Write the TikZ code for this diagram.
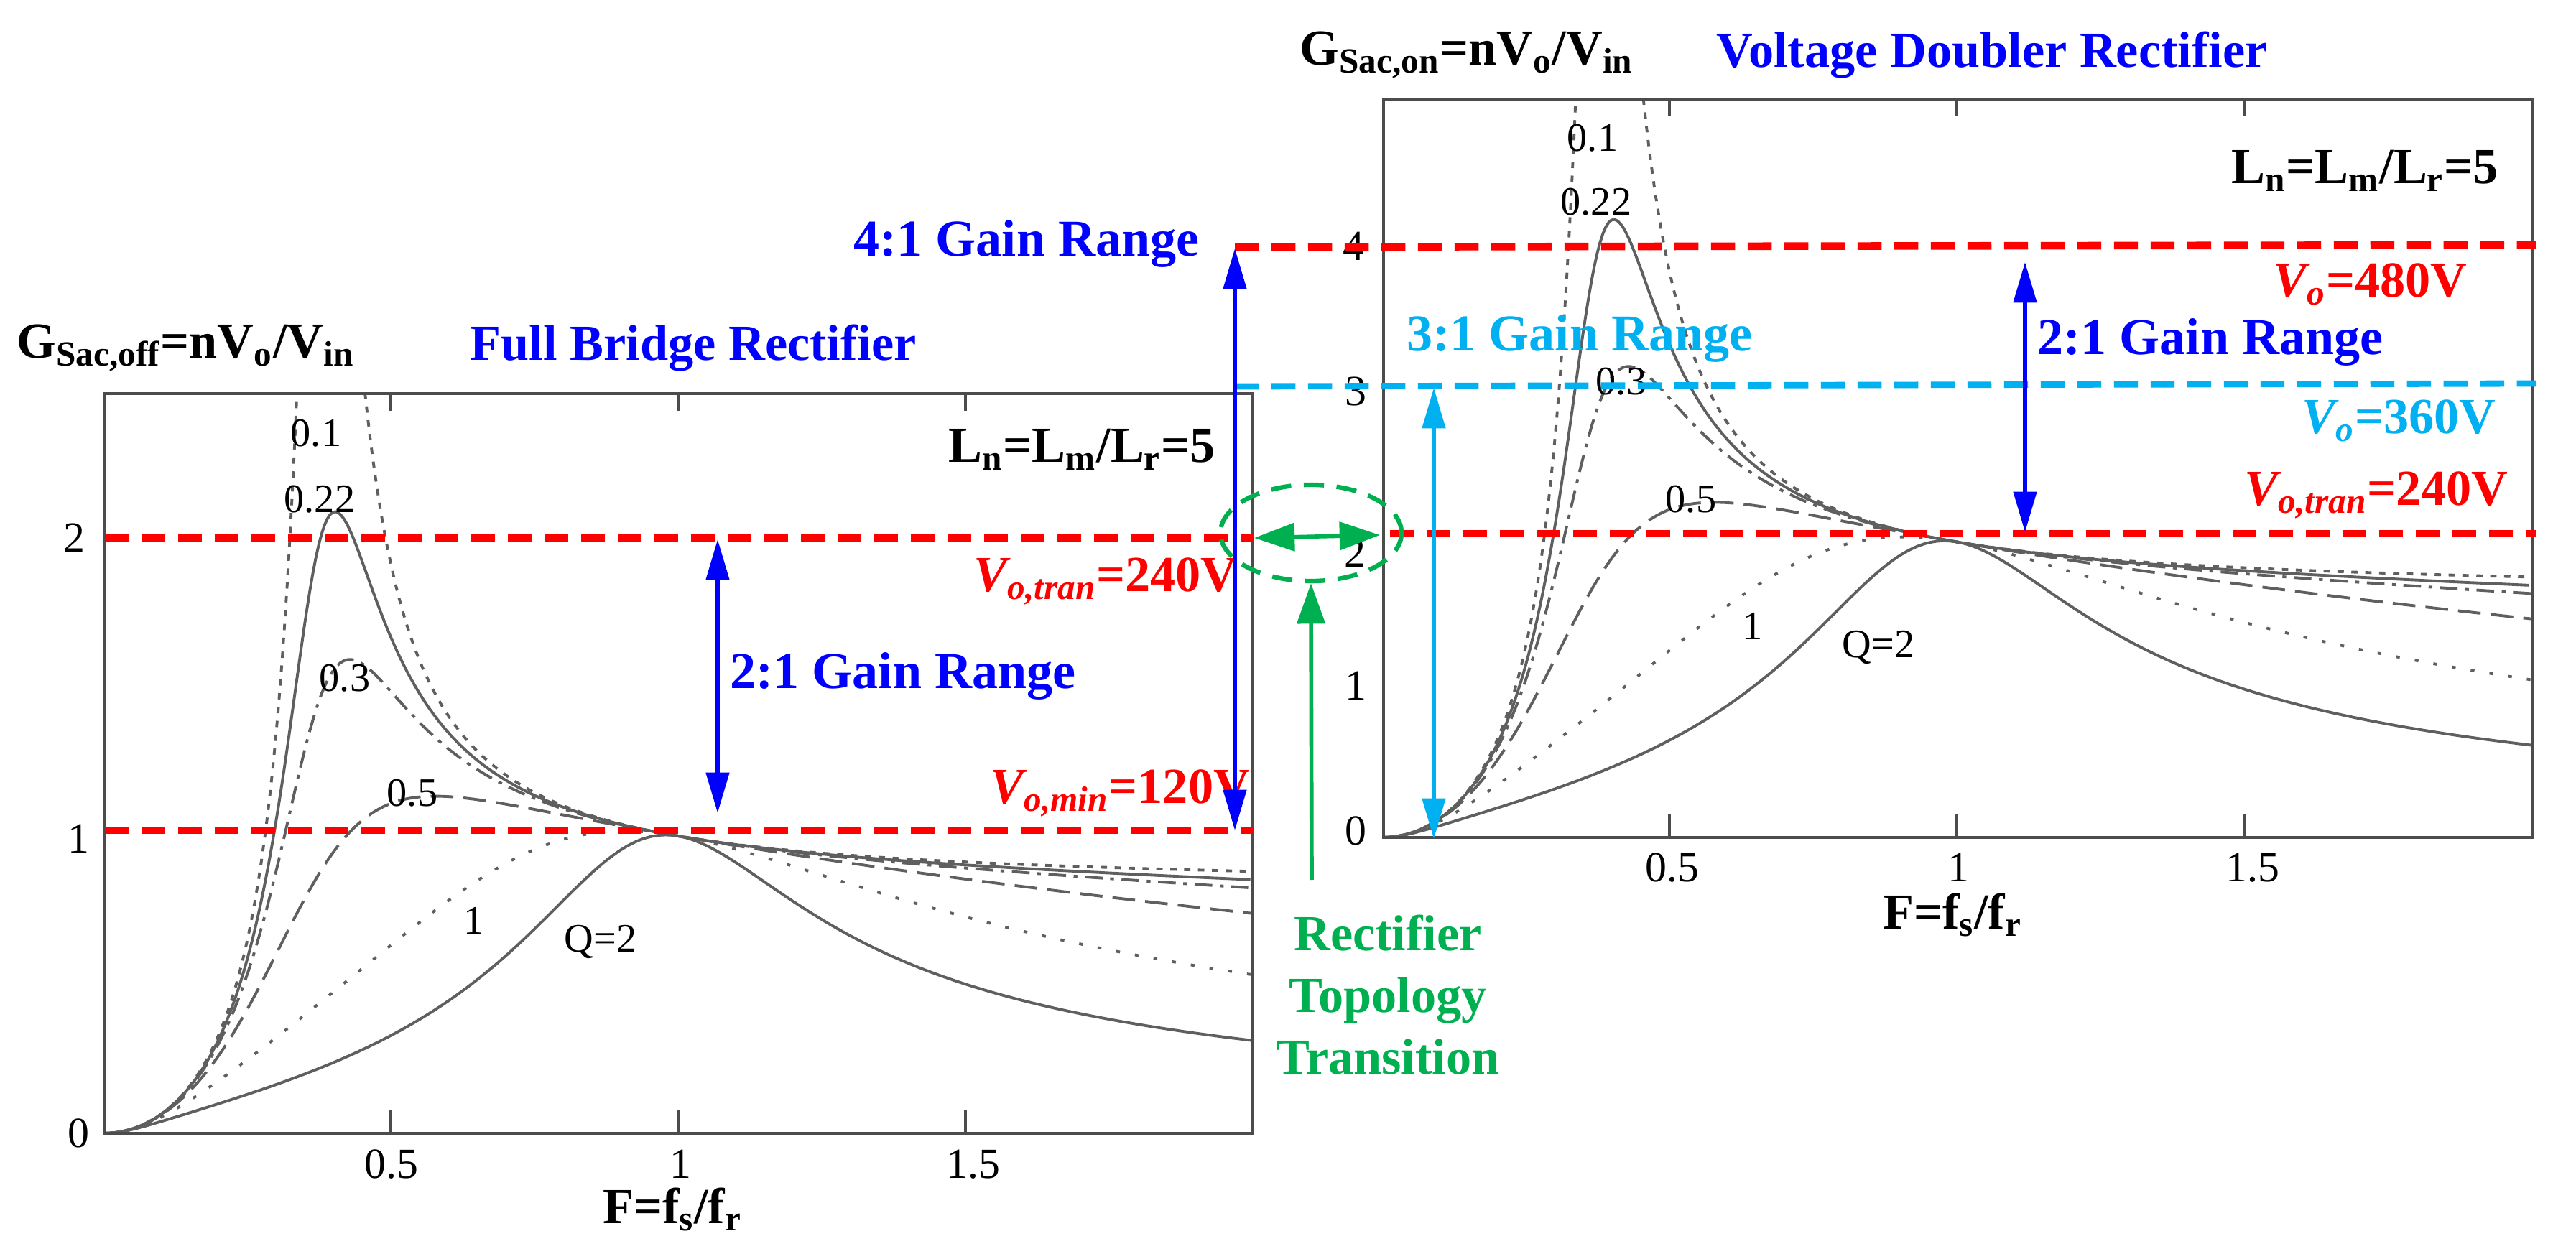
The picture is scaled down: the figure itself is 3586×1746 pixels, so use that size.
\documentclass[tikz,border=0pt]{standalone}
\usepackage{fontspec}
\setmainfont{Liberation Serif}
\usetikzlibrary{arrows.meta,shapes.geometric}
\definecolor{myred}{RGB}{255,0,0}
\definecolor{myblue}{RGB}{0,0,255}
\definecolor{mycyan}{RGB}{0,176,240}
\definecolor{mygreen}{RGB}{0,176,80}
\definecolor{curve}{RGB}{95,95,95}
\begin{document}
\begin{tikzpicture}[x=0.01cm,y=-0.01cm,
  declare function={gm(\f,\q)=6*\f*\f/sqrt((7*\f*\f-1)*(7*\f*\f-1)+(\f*\f-1)*(\f*\f-1)*\f*\f*36*\q*\q);},
  frame/.style={draw=black!70,line width=1.3pt},
  crv/.style={curve,line width=1.1pt},
  q01/.style={crv,dash pattern=on 2.5pt off 3pt},
  q03/.style={crv,dash pattern=on 7pt off 3pt on 1.5pt off 3pt},
  q05/.style={crv,dash pattern=on 9pt off 4pt},
  q1/.style={crv,dash pattern=on 1.5pt off 6pt},
  rdash/.style={myred,line width=3pt,dash pattern=on 9.5pt off 5pt},
  cdash/.style={mycyan,line width=2.5pt,dash pattern=on 9.5pt off 5pt},
  tick/.style={font=\fontsize{17}{20}\selectfont},
  ql/.style={font=\fontsize{16}{19}\selectfont},
  ttl/.style={font=\bfseries\fontsize{20}{24}\selectfont},
  grt/.style={font=\bfseries\fontsize{20.5}{24}\selectfont},
  vl/.style={font=\bfseries\fontsize{20}{24}\selectfont,text=myred},
  barr/.style={myblue,line width=1.6pt,{Triangle[length=16pt,width=9pt]}-{Triangle[length=16pt,width=9pt]}},
  carr/.style={mycyan,line width=1.6pt,{Triangle[length=16pt,width=9pt]}-{Triangle[length=16pt,width=9pt]}},
  garr/.style={mygreen,line width=1.6pt},
]
\useasboundingbox (0,0) rectangle (3586,1746);
% ---------- left plot ----------
\begin{scope}
\clip (145,548) rectangle (1744,1578);
\draw[q01] plot[domain=0.005:2,samples=400] ({144+800*\x},{1578-414*gm(\x,0.1)});
\draw[crv] plot[domain=0.005:2,samples=400] ({144+800*\x},{1578-414*gm(\x,0.22)});
\draw[q03] plot[domain=0.005:2,samples=300] ({144+800*\x},{1578-414*gm(\x,0.3)});
\draw[q05] plot[domain=0.005:2,samples=300] ({144+800*\x},{1578-414*gm(\x,0.5)});
\draw[q1] plot[domain=0.005:2,samples=300] ({144+800*\x},{1578-414*gm(\x,1)});
\draw[crv] plot[domain=0.005:2,samples=300] ({144+800*\x},{1578-414*gm(\x,2)});
\end{scope}
\draw[frame] (145,548) rectangle (1744,1578);
\foreach \t in {0.5,1,1.5} {
  \draw[frame,line width=1pt] ({144+800*\t},1578) -- ({144+800*\t},1546);
  \draw[frame,line width=1pt] ({144+800*\t},548) -- ({144+800*\t},572);}
\node[tick] (l0) at (109,1578) {0};
\node[tick] (l1) at (109,1168) {1};
\node[tick] (l2) at (103,749) {2};
\node[tick] (lx1) at (545,1621) {0.5};
\node[tick] (lx2) at (947,1621) {1};
\node[tick] (lx3) at (1355,1621) {1.5};
\node[ttl] (lxl) at (936,1684) {F=f\textsubscript{s}/f\textsubscript{r}};
\node[ttl,anchor=west,inner sep=0pt] (ltitle) at (23,485) {G\textsubscript{Sac,off}=nV\textsubscript{o}/V\textsubscript{in}};
\node[ttl,anchor=west,inner sep=0pt,text=myblue] (lsub) at (654,485) {Full Bridge Rectifier};
\node[ttl,anchor=west,inner sep=0pt] (lln) at (1320,626) {L\textsubscript{n}=L\textsubscript{m}/L\textsubscript{r}=5};
\node[ql] (lq1) at (440,603) {0.1};
\node[ql] (lq2) at (445,695) {0.22};
\node[ql] (lq3) at (480,944) {0.3};
\node[ql] (lq4) at (574,1104) {0.5};
\node[ql] (lq5) at (660,1282) {1};
\node[ql] (lq6) at (836,1311) {Q=2};
\coordinate (lr2a) at (146,749); \coordinate (lr2b) at (1745,749);
\coordinate (lr1a) at (146,1156); \coordinate (lr1b) at (1745,1156);
\draw[rdash] (lr2a) -- (lr2b);
\draw[rdash] (lr1a) -- (lr1b);
\node[vl,anchor=west,inner sep=0pt] (vtranl) at (1355,809) {\textit{V\textsubscript{o,tran}}=240V};
\node[vl,anchor=west,inner sep=0pt] (vmin) at (1378,1104) {\textit{V\textsubscript{o,min}}=120V};
\coordinate (a21t) at (999,751); \coordinate (a21b) at (999,1132);
\draw[barr] (a21t) -- (a21b);
\node[grt,anchor=west,inner sep=0pt,text=myblue] (g21l) at (1016,941) {2:1 Gain Range};
% ---------- right plot ----------
\begin{scope}
\clip (1926,138) rectangle (3525,1166);
\draw[q01] plot[domain=0.005:2,samples=400] ({1924+800*\x},{1166-205.75*2*gm(\x,0.1)});
\draw[crv] plot[domain=0.005:2,samples=400] ({1924+800*\x},{1166-205.75*2*gm(\x,0.22)});
\draw[q03] plot[domain=0.005:2,samples=300] ({1924+800*\x},{1166-205.75*2*gm(\x,0.3)});
\draw[q05] plot[domain=0.005:2,samples=300] ({1924+800*\x},{1166-205.75*2*gm(\x,0.5)});
\draw[q1] plot[domain=0.005:2,samples=300] ({1924+800*\x},{1166-205.75*2*gm(\x,1)});
\draw[crv] plot[domain=0.005:2,samples=300] ({1924+800*\x},{1166-205.75*2*gm(\x,2)});
\end{scope}
\draw[frame] (1926,138) rectangle (3525,1166);
\foreach \t in {0.5,1,1.5} {
  \draw[frame,line width=1pt] ({1924+800*\t},1166) -- ({1924+800*\t},1134);
  \draw[frame,line width=1pt] ({1924+800*\t},138) -- ({1924+800*\t},162);}
\node[tick] (r0) at (1887,1157) {0};
\node[tick] (r1) at (1887,955) {1};
\node[tick] (r2) at (1886,770) {2};
\node[tick] (r3) at (1887,545) {3};
\node[tick] (r4) at (1884,343) {4};
\node[tick] (rx1) at (2328,1208) {0.5};
\node[tick] (rx2) at (2726,1208) {1};
\node[tick] (rx3) at (3136,1208) {1.5};
\node[ttl] (rxl) at (2718,1274) {F=f\textsubscript{s}/f\textsubscript{r}};
\node[ttl,anchor=west,inner sep=0pt] (rtitle) at (1809,77) {G\textsubscript{Sac,on}=nV\textsubscript{o}/V\textsubscript{in}};
\node[ttl,anchor=west,inner sep=0pt,text=myblue] (rsub) at (2389,77) {Voltage Doubler Rectifier};
\node[ttl,anchor=west,inner sep=0pt] (rln) at (3106,238) {L\textsubscript{n}=L\textsubscript{m}/L\textsubscript{r}=5};
\node[ql] (rq1) at (2217,192) {0.1};
\node[ql] (rq2) at (2222,281) {0.22};
\node[ql] (rq3) at (2257,531) {0.3};
\node[ql] (rq4) at (2354,695) {0.5};
\node[ql] (rq5) at (2440,872) {1};
\node[ql] (rq6) at (2615,901) {Q=2};
\coordinate (rr4a) at (1719,344); \coordinate (rr4b) at (3530,341);
\coordinate (rr3a) at (1719,538); \coordinate (rr3b) at (3530,534);
\coordinate (rr2a) at (1935,743); \coordinate (rr2b) at (3530,743);
\draw[rdash] (rr4a) -- (rr4b);
\draw[cdash] (rr3a) -- (rr3b);
\draw[rdash] (rr2a) -- (rr2b);
\node[vl,anchor=west,inner sep=0pt] (v480) at (3164,396) {\textit{V\textsubscript{o}}=480V};
\node[vl,anchor=west,inner sep=0pt,text=mycyan] (v360) at (3204,586) {\textit{V\textsubscript{o}}=360V};
\node[vl,anchor=west,inner sep=0pt] (vtranr) at (3124,689) {\textit{V\textsubscript{o,tran}}=240V};
\coordinate (b21t) at (2819,365); \coordinate (b21b) at (2819,741);
\draw[barr] (b21t) -- (b21b);
\node[grt,anchor=west,inner sep=0pt,text=myblue] (g21r) at (2836,476) {2:1 Gain Range};
\coordinate (c31t) at (1996,540); \coordinate (c31b) at (1996,1168);
\draw[carr] (c31t) -- (c31b);
\node[grt,anchor=west,inner sep=0pt,text=mycyan] (g31) at (1958,471) {3:1 Gain Range};
\coordinate (a41t) at (1719,346); \coordinate (a41b) at (1719,1156);
\draw[barr] (a41t) -- (a41b);
\node[grt,anchor=west,inner sep=0pt,text=myblue] (g41) at (1188,339) {4:1 Gain Range};
% ---------- transition ----------
\node[draw=mygreen,line width=1.8pt,dash pattern=on 8pt off 5pt,ellipse,minimum width=2.52cm,minimum height=1.34cm,inner sep=0pt] (ell) at (1825,742) {};
\coordinate (gla) at (1746,749); \coordinate (glb) at (1921,745);
\draw[garr,{Triangle[length=16pt,width=11pt]}-{Triangle[length=16pt,width=11pt]}] (gla) -- (glb);
\node[text=mygreen,align=center,font=\bfseries\fontsize{20}{24.5}\selectfont] (rtt) at (1932,1385) {Rectifier\\Topology\\Transition};
\coordinate (gtail) at (1826,1225);
\draw[garr,-{Triangle[length=16pt,width=11pt]}] (gtail) -- (ell.south);
\end{tikzpicture}
\end{document}
